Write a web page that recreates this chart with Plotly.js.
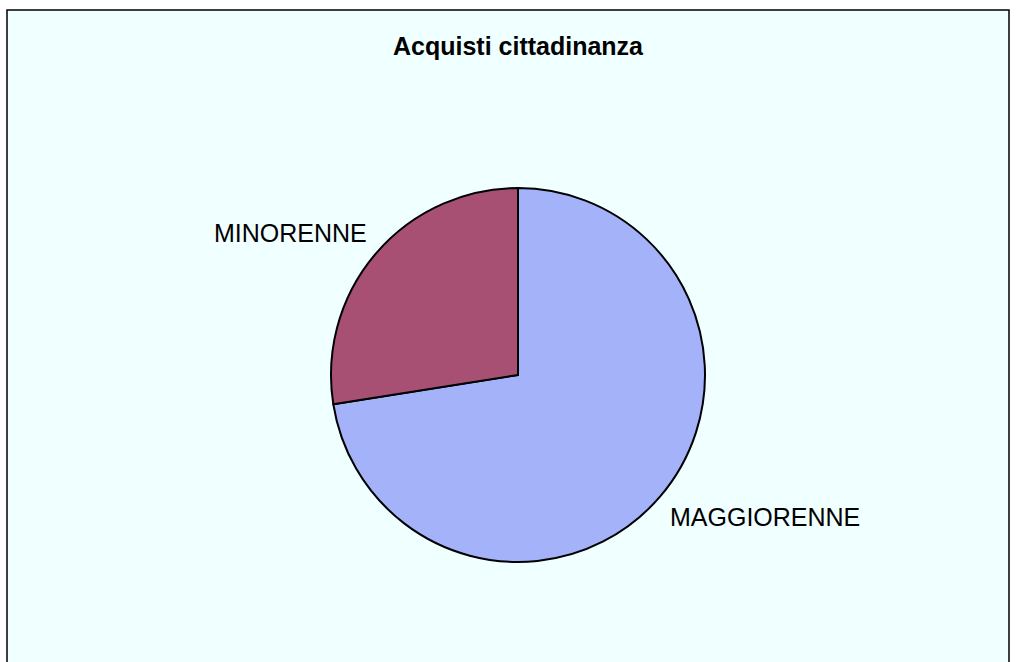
<!DOCTYPE html>
<html>
<head>
<meta charset="utf-8">
<script src="https://cdn.plot.ly/plotly-3.0.1.min.js"></script>
<style>
  html, body { margin: 0; padding: 0; background: #ffffff; }
  #chart { width: 1018px; height: 662px; }
</style>
</head>
<body>
<div id="chart"></div>
<script>
const titleText = "Acquisti cittadinanza";
const labels = ["MAGGIORENNE", "MINORENNE"];
const values = [72.5, 27.5];
const colors = ["#A4B2FA", "#A85074"];

const W = 1018, H = 662;
const px = x => x / W;
const py = y => 1 - y / H;

const trace = {
  type: "pie",
  labels: labels,
  values: values,
  sort: false,
  direction: "clockwise",
  rotation: 0,
  textinfo: "none",
  hoverinfo: "label+percent",
  marker: { colors: colors, line: { color: "#000000", width: 2 } },
  domain: { x: [px(331), px(705)], y: [py(562), py(188)] },
  showlegend: false
};

const layout = {
  width: W, height: H,
  margin: { l: 0, r: 0, t: 0, b: 0 },
  paper_bgcolor: "#ffffff",
  font: { family: "Liberation Sans, Arial, sans-serif", color: "#000000" },
  title: {
    text: "<b>" + titleText + "</b>",
    font: { size: 25, family: "Liberation Sans, Arial, sans-serif", color: "#000000" },
    x: px(518), xanchor: "center",
    y: py(46), yanchor: "middle"
  },
  shapes: [{
    type: "rect", xref: "paper", yref: "paper", layer: "below",
    x0: px(7), x1: px(1009), y0: -0.05, y1: py(10),
    line: { color: "#000000", width: 1.5 },
    fillcolor: "#F0FFFF"
  }],
  annotations: [
    { text: labels[1], xref: "paper", yref: "paper", x: px(290), y: py(233),
      xanchor: "center", yanchor: "middle", showarrow: false,
      font: { size: 25, family: "Liberation Sans, Arial, sans-serif", color: "#000000" } },
    { text: labels[0], xref: "paper", yref: "paper", x: px(765), y: py(517),
      xanchor: "center", yanchor: "middle", showarrow: false,
      font: { size: 25, family: "Liberation Sans, Arial, sans-serif", color: "#000000" } }
  ]
};

Plotly.newPlot("chart", [trace], layout, { displayModeBar: false, staticPlot: true });
</script>
</body>
</html>
